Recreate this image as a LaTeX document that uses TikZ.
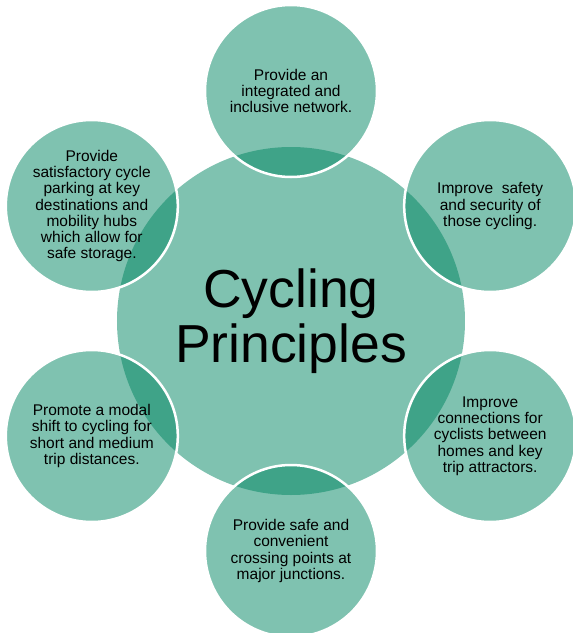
\documentclass[tikz,border=0pt]{standalone}
\usepackage{fontspec}
\setmainfont{Liberation Sans}
\definecolor{petalgreen}{RGB}{0,133,97}
\tikzset{
  hub/.style={circle, fill=petalgreen, fill opacity=0.5, text opacity=1,
    minimum size=348pt, inner sep=0pt, align=center,
    font=\fontsize{53.5}{54.5}\selectfont},
  petal/.style={circle, fill=petalgreen, fill opacity=0.5, text opacity=1,
    draw=white, line width=2.5pt, minimum size=172pt, inner sep=0pt,
    align=center, font=\fontsize{15.5}{16.3}\selectfont}
}

\begin{document}
\begin{tikzpicture}[x=1pt,y=1pt]
                \useasboundingbox (-291,-312) rectangle (282,321);

                % Big centre circle
                \node[hub] (hub) at (0,0) {Cycling\\Principles};

                % Six principles, going round clockwise from the top
                \node[petal] (network) at (90:230)
                    {Provide an\\integrated and\\inclusive network.};
                \node[petal] (safety) at (30:230)
                    {Improve\ \ safety\\and security of\\those cycling.};
                \node[petal] (links) at (-30:230)
                    {Improve\\connections for\\cyclists between\\homes and key\\trip attractors.};
                \node[petal] (crossing) at (-90:230)
                    {Provide safe and\\convenient\\crossing points at\\major junctions.};
                \node[petal] (modal) at (210:230)
                    {Promote a modal\\shift to cycling for\\short and medium\\trip distances.};
                \node[petal] (parking) at (150:230)
                    {Provide\\satisfactory cycle\\parking at key\\destinations and\\mobility hubs\\which allow for\\safe storage.};
\end{tikzpicture}
\end{document}
